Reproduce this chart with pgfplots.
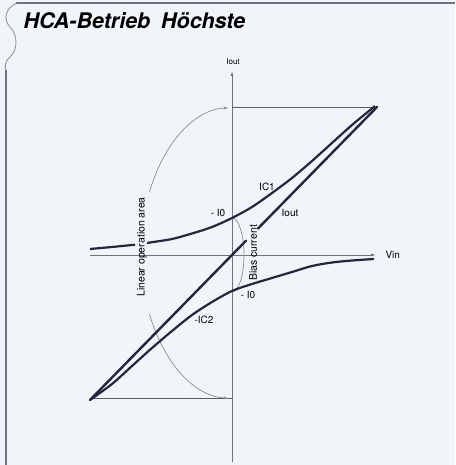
\documentclass[border=0pt]{standalone}
\usepackage{pgfplots}
\pgfplotsset{compat=1.18}
\usetikzlibrary{arrows.meta}
\usepackage{fontspec}
\setmainfont{TeX Gyre Heros}

\definecolor{paper}{RGB}{241,245,250}
\definecolor{ink}{RGB}{36,38,62}
\definecolor{axisgray}{RGB}{112,114,126}
\definecolor{arcgray}{RGB}{138,140,150}

% curves of the two output transistors (origin = axis crossing)
\pgfplotstableread{
x     y
-142  6
-120  8
-100  10
-97   10.3
}\iconeleft
\pgfplotstableread{
x     y
-85   12
-80   12.8
-60   16
-40   21.5
-20   28
0     37
20    48
40    62
60    77
80    94
100   112
120   130
143   149
}\icone
\pgfplotstableread{
x     y
-142  -145
-120  -129
-100  -111
-80   -93
-60   -76
-40   -60
-20   -47
0     -36
20    -29
40    -23
60    -17
80    -11
100   -7.5
120   -5.5
142   -4
}\ictwo

\begin{document}
\begin{tikzpicture}
\begin{axis}[
  width=455pt, height=465pt, scale only axis,
  xmin=-232, xmax=223, ymin=-210, ymax=255,
  hide axis,
  every node/.style={inner sep=0pt, text=ink},
]
\fill[paper] (axis cs:-232,-210) rectangle (axis cs:223,255);

% page edge and rule
\draw[axisgray, line width=1.4pt] (axis cs:-216,252) -- (axis cs:223,252);
\draw[axisgray, line width=1.4pt] (axis cs:-226,185) -- (axis cs:-226,-210);
\draw[arcgray, line width=0.8pt] (axis cs:-215,252) .. controls (axis cs:-227,247) and (axis cs:-229,235) .. (axis cs:-222,228)
  .. controls (axis cs:-214,220) and (axis cs:-214,205) .. (axis cs:-222,198)
  .. controls (axis cs:-228,193) and (axis cs:-227,187) .. (axis cs:-226,185);

\node[anchor=base west, font=\fontsize{21.5}{24}\selectfont\bfseries\itshape] at (axis cs:-212,226) {HCA-Betrieb\hspace{0.5em}Höchste};

% axes
\draw[axisgray, line width=0.9pt, -{Latex[length=5pt,width=3pt]}] (axis cs:0,-207) -- (axis cs:0,184);
\draw[axisgray, line width=0.9pt, -{Latex[length=5pt,width=3pt]}] (axis cs:-142,0) -- (axis cs:144,0);
\node[font=\fontsize{8}{9}\selectfont] at (axis cs:1,193) {Iout};
\node[anchor=west, font=\fontsize{10}{12}\selectfont] at (axis cs:150,0) {Vin};

% guide lines
\draw[axisgray!80!black, line width=0.9pt] (axis cs:0,148) -- (axis cs:145,148);
\draw[axisgray!80!black, line width=0.9pt] (axis cs:-142,-143) -- (axis cs:0,-143);

% linear operation area arc
\draw[arcgray, line width=0.7pt, -{Latex[length=5pt,width=3pt]}] (axis cs:-82.5,63) arc[start angle=155, end angle=92, x radius=91pt, y radius=146pt];
\draw[arcgray, line width=0.7pt, -{Latex[length=5pt,width=3pt]}] (axis cs:-82.5,-59) arc[start angle=205, end angle=268, x radius=91pt, y radius=146pt];
\node[rotate=90, font=\fontsize{10.5}{12}\selectfont] at (axis cs:-90,8) {Linear operation area};

% bias current arc
\draw[arcgray, line width=0.7pt] (axis cs:0,37) arc[start angle=90, end angle=-90, x radius=12pt, y radius=37pt];
\node[rotate=90, font=\fontsize{10.5}{12}\selectfont] at (axis cs:21,2) {Bias current};

% curves
\addplot[ink, line width=2.4pt, line cap=round] coordinates {(-142,-145) (14,14.3)};
\addplot[ink, line width=2.4pt, line cap=round] coordinates {(26,26.5) (145,148)};
\addplot[ink, line width=2.2pt, smooth] table {\iconeleft};
\addplot[ink, line width=2.2pt, smooth] table {\icone};
\addplot[ink, line width=2.2pt, smooth] table {\ictwo};

\node[font=\fontsize{10}{12}\selectfont] at (axis cs:35,68) {IC1};
\node[font=\fontsize{10}{12}\selectfont] at (axis cs:58,42) {Iout};
\node[font=\fontsize{10}{12}\selectfont] at (axis cs:-14,42) {- I0};
\node[font=\fontsize{10}{12}\selectfont] at (axis cs:16,-40) {- I0};
\node[font=\fontsize{10}{12}\selectfont] at (axis cs:-28,-65) {-IC2};
\end{axis}
\end{tikzpicture}
\end{document}
